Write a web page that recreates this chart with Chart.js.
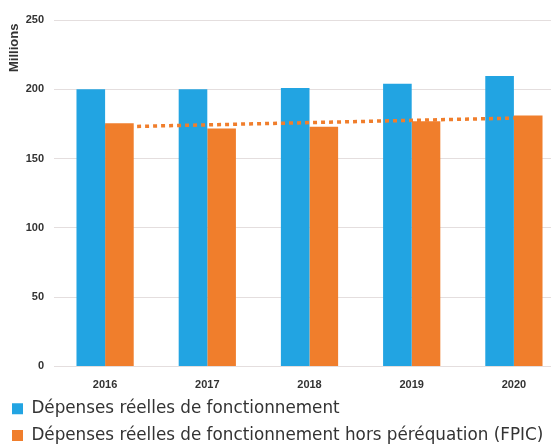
<!DOCTYPE html>
<html>
<head>
<meta charset="utf-8">
<script src="https://cdn.jsdelivr.net/npm/chart.js@4"></script>
<style>
  html, body { margin: 0; padding: 0; background: #fff; overflow: hidden; }
  #wrap { width: 565px; height: 448px; }
</style>
</head>
<body>
<div id="wrap"><canvas id="chartDepenses"></canvas></div>
<script>
const annees = ["2016", "2017", "2018", "2019", "2020"];
const depensesFonctionnement = [200, 200, 201, 204, 209.5];
const depensesHorsFpic = [175.4, 171.7, 172.9, 177, 181];
const tendanceHorsFpic = [172.7, null, null, null, 179.2];
const ticksY = [0, 50, 100, 150, 200, 250];

const bleu = "#22a4e2";
const orange = "#f07e2c";

document.addEventListener("DOMContentLoaded", () => {
    const ctx = document.getElementById("chartDepenses");

    new Chart(ctx, {
        type: "bar",
        data: {
            labels: annees,
            datasets: [
                {
                    type: "line",
                    label: "Tendance",
                    data: tendanceHorsFpic,
                    borderColor: orange,
                    borderWidth: 3.5,
                    borderDash: [4, 4],
                    pointRadius: 0,
                    spanGaps: true,
                    fill: false,
                    order: 0
                },
                {
                    label: "Dépenses réelles de fonctionnement",
                    data: depensesFonctionnement,
                    backgroundColor: bleu,
                    order: 1
                },
                {
                    label: "Dépenses réelles de fonctionnement hors péréquation (FPIC)",
                    data: depensesHorsFpic,
                    backgroundColor: orange,
                    order: 1
                }
            ]
        },
        options: {
            responsive: true,
            maintainAspectRatio: false,
            animation: false,
            layout: { padding: { top: 20, left: 2, right: 0, bottom: -6 } },
            datasets: {
                bar: { barPercentage: 1, categoryPercentage: 0.56 }
            },
            scales: {
                x: {
                    grid: { display: false },
                    border: { display: false },
                    ticks: {
                        color: "#333",
                        font: { family: "Liberation Sans", weight: "bold", size: 11 },
                        padding: 4
                    },
                    afterFit: (scale) => {
                        scale.height = 24;
                        scale.paddingLeft = 0;
                        scale.paddingRight = 0;
                    }
                },
                y: {
                    min: 0,
                    max: 250,
                    afterBuildTicks: (scale) => {
                        scale.ticks = ticksY.map(v => ({ value: v }));
                    },
                    grid: { color: "#e4dede", drawTicks: false },
                    border: { display: false },
                    ticks: {
                        color: "#333",
                        font: { family: "Liberation Sans", weight: "bold", size: 11 },
                        padding: 10
                    },
                    title: {
                        display: true,
                        text: "Millions\u00a0",
                        align: "end",
                        color: "#333",
                        font: { family: "Liberation Sans", weight: "bold", size: 13 },
                        padding: { top: 5, bottom: 0 }
                    },
                    afterFit: (scale) => {
                        scale.width = 52;
                        scale.paddingTop = 0;
                        scale.paddingBottom = 0;
                    }
                }
            },
            plugins: {
                legend: {
                    position: "bottom",
                    align: "start",
                    labels: {
                        filter: (item) => item.datasetIndex !== 0,
                        boxWidth: 11,
                        boxHeight: 11,
                        padding: 10,
                        color: "#333",
                        font: { family: "DejaVu Sans", size: 16.8 }
                    }
                },
                tooltip: { enabled: false }
            }
        }
    });
});
</script>
</body>
</html>
